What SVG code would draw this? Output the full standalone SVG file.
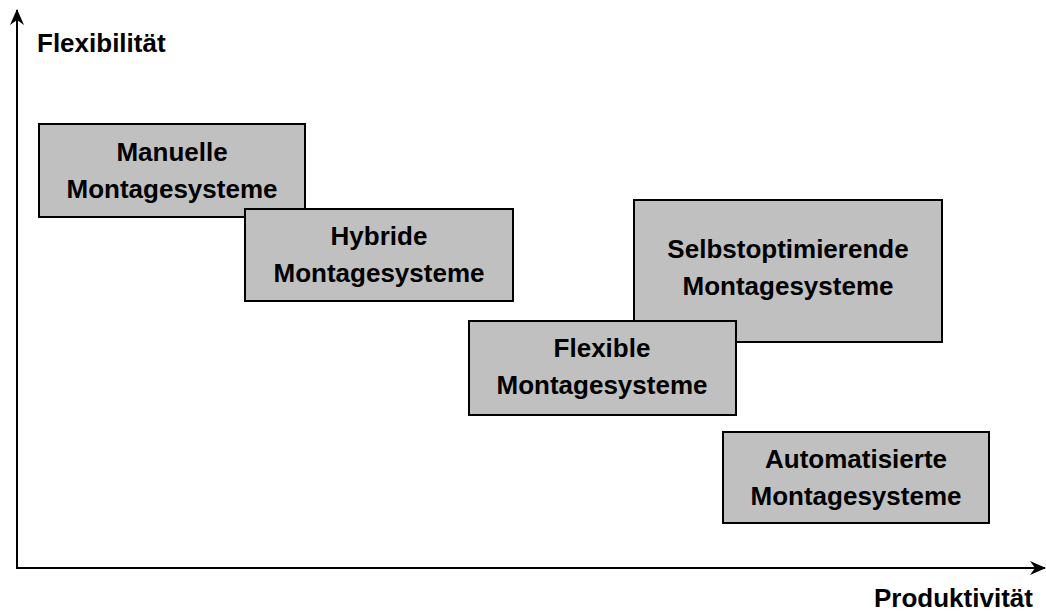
<svg xmlns="http://www.w3.org/2000/svg" width="1046" height="612" viewBox="0 0 1046 612">
  <style>
    .box { fill: #c0c0c0; stroke: #000; stroke-width: 2; }
    .lbl { font-family: "Liberation Sans", Arial, sans-serif; font-weight: bold; font-size: 26px; fill: #000; }
    .mid { text-anchor: middle; }
    .axis { stroke: #000; stroke-width: 2; fill: none; }
  </style>
  <defs>
    <marker id="arrow" viewBox="0 0 16 16" refX="15" refY="8" markerWidth="16" markerHeight="16" markerUnits="userSpaceOnUse" orient="auto">
      <path d="M0,1 L16,8 L0,15 L5,8 Z" fill="#000"/>
    </marker>
  </defs>
  <rect width="1046" height="612" fill="#fff"/>

  <g id="axes">
    <line class="axis" x1="17" y1="568" x2="17" y2="10" marker-end="url(#arrow)"/>
    <line class="axis" x1="16" y1="568" x2="1045" y2="568" marker-end="url(#arrow)"/>
    <text class="lbl" x="37" y="52">Flexibilität</text>
    <text class="lbl" x="874" y="607">Produktivität</text>
  </g>

  <g id="manuelle">
    <rect class="box" x="39" y="124" width="266" height="93"/>
    <text class="lbl mid" x="172" y="161">Manuelle</text>
    <text class="lbl mid" x="172" y="198">Montagesysteme</text>
  </g>

  <g id="hybride">
    <rect class="box" x="245" y="209" width="268" height="92"/>
    <text class="lbl mid" x="379" y="245">Hybride</text>
    <text class="lbl mid" x="379" y="282">Montagesysteme</text>
  </g>

  <g id="selbstoptimierende">
    <rect class="box" x="634" y="200" width="308" height="142"/>
    <text class="lbl mid" x="788" y="258">Selbstoptimierende</text>
    <text class="lbl mid" x="788" y="295">Montagesysteme</text>
  </g>

  <g id="flexible">
    <rect class="box" x="469" y="321" width="267" height="94"/>
    <text class="lbl mid" x="602" y="357">Flexible</text>
    <text class="lbl mid" x="602" y="394">Montagesysteme</text>
  </g>

  <g id="automatisierte">
    <rect class="box" x="723" y="432" width="266" height="91"/>
    <text class="lbl mid" x="856" y="468">Automatisierte</text>
    <text class="lbl mid" x="856" y="505">Montagesysteme</text>
  </g>
</svg>
